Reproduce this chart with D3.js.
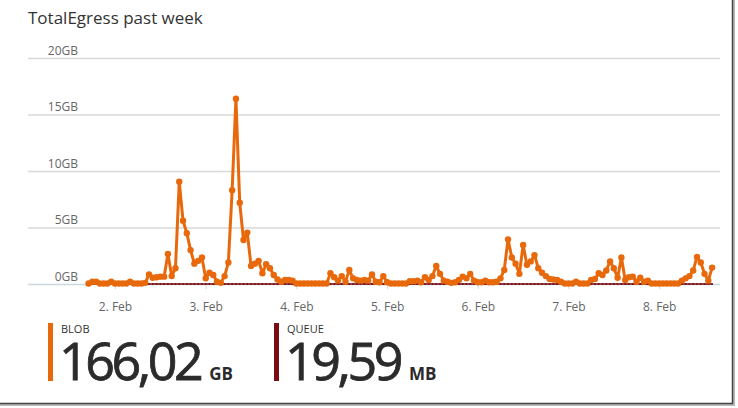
<!DOCTYPE html>
<html>
<head>
<meta charset="utf-8">
<script src="https://cdn.jsdelivr.net/npm/d3@7"></script>
<style>
  body { margin: 0; background: #fff; }
  svg { display: block; font-family: "Open Sans", "Noto Sans", sans-serif; }
</style>
</head>
<body>
<div id="chart"></div>
<script>
// hourly samples, first one at 1 Feb 17:00
const firstHour = Date.UTC(2016, 1, 1, 17)

// BLOB egress in GB, one row per day
const blobGB = [
  0.05, 0.2, 0.2, 0.05, 0.05, 0.05, 0.2,
  0.05, 0.05, 0.05, 0.05, 0.2, 0.05, 0.05, 0.05, 0.1, 0.85, 0.55, 0.6, 0.65, 0.65, 2.65, 0.7, 1.4, 9.05, 5.6, 4.5, 3.0, 1.8, 2.05, 2.35,
  0.5, 1.0, 0.8, 0.2, 0.1, 0.7, 1.9, 8.3, 16.4, 7.2, 3.9, 4.55, 1.6, 1.8, 2.05, 0.95, 1.75, 1.4, 0.8, 0.4, 0.2, 0.35, 0.35, 0.3,
  0.05, 0.05, 0.05, 0.05, 0.05, 0.05, 0.05, 0.05, 0.05, 0.95, 0.6, 0.3, 0.7, 0.2, 1.25, 0.5, 0.35, 0.3, 0.35, 0.3, 0.85, 0.2, 0.15, 0.7,
  0.15, 0.05, 0.05, 0.05, 0.05, 0.05, 0.25, 0.25, 0.3, 0.15, 0.6, 0.35, 0.7, 1.6, 0.9, 0.3, 0.2, 0.1, 0.15, 0.35, 0.65, 0.5, 0.9, 0.3,
  0.15, 0.15, 0.3, 0.15, 0.15, 0.2, 0.5, 1.25, 3.95, 2.35, 1.8, 0.9, 3.45, 1.7, 2.0, 2.55, 1.4, 1.0, 0.7, 0.45, 0.4, 0.35, 0.2, 0.05,
  0.05, 0.05, 0.2, 0.05, 0.05, 0.05, 0.35, 0.45, 0.95, 0.8, 1.2, 2.0, 1.4, 0.55, 2.35, 0.35, 0.6, 0.65, 0.2, 0.55, 0.2, 0.3, 0.05, 0.05,
  0.05, 0.05, 0.05, 0.05, 0.05, 0.05, 0.3, 0.5, 0.7, 1.2, 2.4, 1.9, 0.9, 0.3, 1.45
]

// QUEUE egress in MB (too small to lift off the 0GB line)
const queueMB = [
  0.1, 0.1, 0.1, 0.1, 0.1, 0.1, 0.1,
  0.1, 0.1, 0.1, 0.1, 0.1, 0.1, 0.1, 0.1, 0.1, 0.1, 0.1, 0.1, 0.1, 0.1, 0.1, 0.1, 0.1, 0.1, 0.1, 0.1, 0.1, 0.1, 0.1, 0.1,
  0.1, 0.1, 0.1, 0.1, 0.1, 0.1, 0.1, 0.1, 0.1, 0.1, 0.1, 0.1, 0.1, 0.1, 0.1, 0.1, 0.1, 0.1, 0.1, 0.1, 0.1, 0.1, 0.1, 0.1,
  0.1, 0.1, 0.1, 0.1, 0.1, 0.1, 0.1, 0.1, 0.1, 0.1, 0.1, 0.1, 0.1, 0.1, 0.1, 0.1, 0.1, 0.1, 0.1, 0.1, 0.1, 0.1, 0.1, 0.1,
  0.1, 0.1, 0.1, 0.1, 0.1, 0.1, 0.1, 0.1, 0.1, 0.1, 0.1, 0.1, 0.1, 0.1, 0.1, 0.1, 0.1, 0.1, 0.1, 0.1, 0.1, 0.1, 0.1, 0.1,
  0.1, 0.1, 0.1, 0.1, 0.1, 0.1, 0.1, 0.1, 0.1, 0.1, 0.1, 0.1, 0.1, 0.1, 0.1, 0.1, 0.1, 0.1, 0.1, 0.1, 0.1, 0.1, 0.1, 0.1,
  0.1, 0.1, 0.1, 0.1, 0.1, 0.1, 0.1, 0.1, 0.1, 0.1, 0.1, 0.1, 0.1, 0.1, 0.1, 0.1, 0.1, 0.1, 0.1, 0.1, 0.1, 0.1, 0.1, 0.1,
  0.1, 0.1, 0.1, 0.1, 0.1, 0.1, 0.1, 0.1, 0.1, 0.1, 0.1, 0.1, 0.1, 0.1, 0.1
]

const yTicks = [0, 5, 10, 15, 20]
const xTickDays = [2, 3, 4, 5, 6, 7, 8]

const seriesNames = ["BLOB", "QUEUE"]
const seriesTotals = ["166,02", "19,59"]
const seriesUnits = ["GB", "MB"]
const seriesColors = ["#e8690b", "#7a0c14"]

const W = 738, H = 408
const hour = 3600 * 1000

const svg = d3.select("#chart")
  .append("svg")
    .attr("width", W)
    .attr("height", H)

// card edge (shadowed right and bottom border)
svg.append("path")
  .attr("d", `M0,${H - 3.5}H${W - 4.5}V0`)
  .attr("fill", "none")
  .attr("stroke", "#bbb")
  .attr("stroke-width", 3)
svg.append("path")
  .attr("d", `M0,${H - 4.5}H${W - 5.5}V0`)
  .attr("fill", "none")
  .attr("stroke", "#444")
  .attr("stroke-width", 1.5)

svg.append("text")
  .attr("x", 28)
  .attr("y", 24)
  .attr("font-size", 17)
  .attr("fill", "#333")
  .text("TotalEgress past week")

// scales
const x = d3.scaleUtc()
  .domain([Date.UTC(2016, 1, 1), Date.UTC(2016, 1, 9)])
  .range([24.3, 749.9])

const y = d3.scaleLinear()
  .domain([0, 20])
  .range([284, 58])

const gridLeft = 28, gridRight = 720

// horizontal grid + y labels
const yAxis = d3.axisRight(y)
  .tickValues(yTicks)
  .tickSize(gridRight - gridLeft)
  .tickFormat(d => d + "GB")

const gy = svg.append("g")
  .attr("transform", `translate(${gridLeft},0)`)
  .call(yAxis)
  .attr("font-family", null)
  .attr("font-size", null)
gy.select(".domain").remove()
gy.selectAll(".tick line")
  .attr("stroke", d => d === 0 ? "#c9d7de" : "#d9d9d9")
  .attr("stroke-width", 1.5)
gy.selectAll(".tick text")
  .attr("x", 50)
  .attr("dy", -4)
  .attr("text-anchor", "end")
  .attr("font-size", 12)
  .attr("fill", "#666")

// x axis
const xAxis = d3.axisBottom(x)
  .tickValues(xTickDays.map(d => new Date(Date.UTC(2016, 1, d))))
  .tickSize(5)
  .tickFormat(d3.utcFormat("%-d. %b"))

const gx = svg.append("g")
  .attr("transform", `translate(0,${y(0)})`)
  .call(xAxis)
  .attr("font-family", null)
  .attr("font-size", null)
gx.select(".domain").remove()
gx.selectAll(".tick line").attr("stroke", "#ccd6dc")
gx.selectAll(".tick text")
  .attr("y", 27)
  .attr("dy", 0)
  .attr("font-size", 12)
  .attr("fill", "#666")

// series
const blob = blobGB.map((v, i) => ({t: firstHour + i * hour, v: v}))
const queue = queueMB.map((v, i) => ({t: firstHour + i * hour, v: v / 1024}))

const line = d3.line()
  .x(d => x(d.t))
  .y(d => y(d.v))

function drawSeries(data, color, width, r) {
  const g = svg.append("g")
  g.append("path")
    .datum(data)
    .attr("fill", "none")
    .attr("stroke", color)
    .attr("stroke-width", width)
    .attr("stroke-linejoin", "round")
    .attr("d", line)
  g.selectAll("circle")
    .data(data)
    .join("circle")
      .attr("cx", d => x(d.t))
      .attr("cy", d => y(d.v))
      .attr("r", r)
      .attr("fill", color)
}

drawSeries(queue, seriesColors[1], 1.4, 1)
drawSeries(blob, seriesColors[0], 3, 3.2)

// legend with totals
const legendX = [48, 274]
const legend = svg.selectAll("g.legend")
  .data(seriesNames)
  .join("g")
    .attr("class", "legend")
    .attr("transform", (d, i) => `translate(${legendX[i]},0)`)

legend.append("rect")
  .attr("x", 0)
  .attr("y", 323)
  .attr("width", 5)
  .attr("height", 58)
  .attr("fill", (d, i) => seriesColors[i])

legend.append("text")
  .attr("x", 13)
  .attr("y", 333)
  .attr("font-size", 11)
  .attr("fill", "#333")
  .text(d => d)

const big = legend.append("text")
  .attr("x", 11)
  .attr("y", 380)
  .attr("fill", "#2b2b2b")
big.append("tspan")
  .attr("font-size", 52)
  .attr("letter-spacing", -3.5)
  .attr("stroke", "#2b2b2b")
  .attr("stroke-width", 0.8)
  .text((d, i) => seriesTotals[i])
big.append("tspan")
  .attr("dx", 9)
  .attr("font-size", 17)
  .attr("font-weight", "bold")
  .text((d, i) => seriesUnits[i])
</script>
</body>
</html>
